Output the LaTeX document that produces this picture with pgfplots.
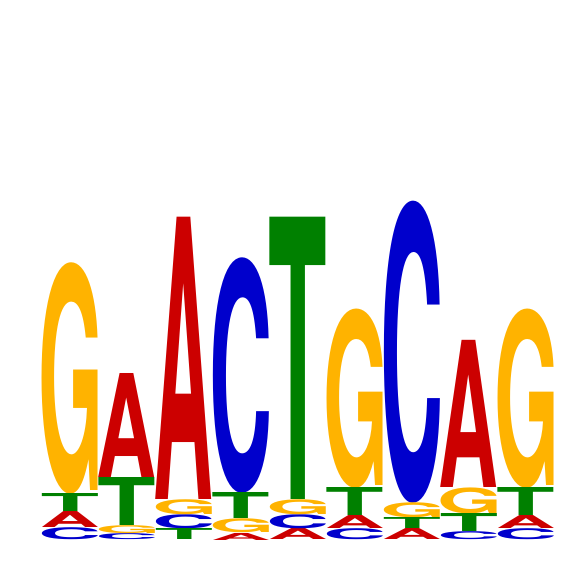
\documentclass[border=0pt]{standalone}
\usepackage{pgfplots}
\usepackage{pgfplotstable}
\usepackage{fontspec}
\pgfplotsset{compat=1.18}
\newfontfamily\logofont{TeX Gyre Heros}

\definecolor{colA}{HTML}{CC0000}
\definecolor{colC}{HTML}{0000CC}
\definecolor{colG}{HTML}{FFB300}
\definecolor{colT}{HTML}{008000}

% letter box trimmed to the glyph ink, stretched to 56pt x #2 pt
\newcommand\lgl[3]{{\logofont\bfseries
  \count255=\XeTeXcharglyph`#1\relax
  \dimen0=\XeTeXglyphbounds1 \count255
  \dimen2=\XeTeXglyphbounds3 \count255
  \resizebox*{56pt}{#2pt}{\textcolor{#3}{\hbox{\kern-\dimen0 #1\kern-\dimen2}}}}}

% pos = column centre, base = bottom of letter, h = letter height (px)
\pgfplotstableread{
pos base h
70  38  16
127 88  104
184 66  282
241 26  7
298 26  11
355 37  13
412 26  11
469 78  147
526 37  13
}\tabA
\pgfplotstableread{
pos base h
70  26  12
127 26  6
184 37  14
241 73  235
298 37  14
355 26  11
412 63  301
469 26  8
526 26  11
}\tabC
\pgfplotstableread{
pos base h
70  72  231
127 32  8
184 51  15
241 33  14
298 51  15
355 78  179
412 48  15
469 52  26
526 78  179
}\tabG
\pgfplotstableread{
pos base h
70  54  18
127 40  48
184 26  11
241 47  26
298 66  282
355 50  28
412 37  11
469 34  18
526 50  28
}\tabT

\pgfplotsset{
  logo/.style 2 args={
    draw=none, mark=none,
    visualization depends on={\thisrow{h}\as\hgt},
    nodes near coords={\lgl{#1}{\hgt}{#2}},
    every node near coord/.append style={anchor=south, inner sep=0pt, outer sep=0pt},
  }
}

\begin{document}
\begin{tikzpicture}
\begin{axis}[
  x=1pt, y=1pt,
  xmin=0, xmax=566, ymin=0, ymax=566,
  hide axis, clip=false,
]
\addplot[draw=none, forget plot] coordinates {(0,0) (566,566)};
\addplot[logo={A}{colA}] table[x=pos, y=base] {\tabA};
\addplot[logo={C}{colC}] table[x=pos, y=base] {\tabC};
\addplot[logo={G}{colG}] table[x=pos, y=base] {\tabG};
\addplot[logo={T}{colT}] table[x=pos, y=base] {\tabT};
\end{axis}
\end{tikzpicture}
\end{document}
